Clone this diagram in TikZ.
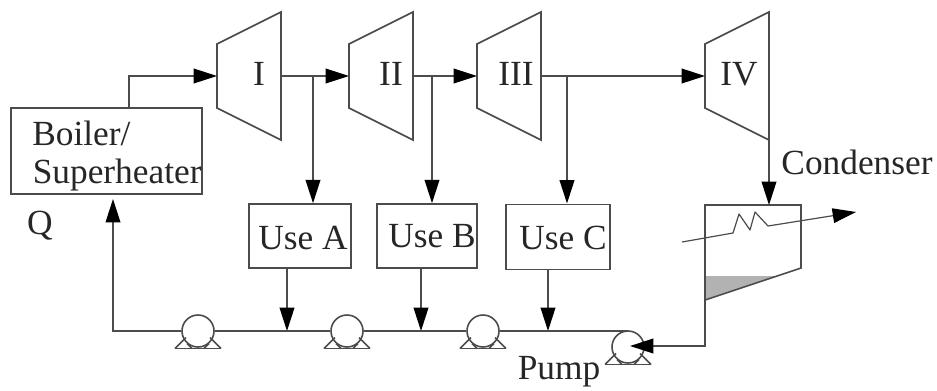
\documentclass[tikz,border=0pt]{standalone}
\usepackage{fontspec}
\setmainfont{Liberation Serif}
\usetikzlibrary{arrows.meta,calc}
\definecolor{ln}{gray}{0.3}
\tikzset{
  lbl/.style={inner sep=0pt,font=\fontsize{26.5pt}{30pt}\selectfont,text=black!85},
  box/.style={draw=ln,rectangle,inner sep=0pt,minimum width=#1*0.75pt,minimum height=48pt},
  pumpc/.style={draw=ln,circle,inner sep=0pt,minimum size=24pt},
  flow/.style={draw=ln,-{Triangle[length=17.5pt,width=11pt,fill=black,color=black]}},
  pipe/.style={draw=ln},
}
\newcommand{\turbine}[2]{%
  \draw[draw=ln,line join=miter] (#1,44) -- (#1+64,12) -- (#1+64,140) -- (#1,108) -- cycle;
  \coordinate (#2in) at (#1,76);
  \coordinate (#2out) at (#1+64,76);
  \coordinate (#2bot) at (#1+64,140);
}
\newcommand{\pumpbase}[1]{%
  \draw[draw=ln] (#1) ++(-23,17.5) -- ++(46,0);
  \draw[draw=ln] (#1) ++(-23,17.5) -- ++(11,-11);
  \draw[draw=ln] (#1) ++(23,17.5) -- ++(-11,-11);
  \draw[draw=ln] (#1) ++(-6,17.5) -- ++(-5,-5);
  \draw[draw=ln] (#1) ++(6,17.5) -- ++(5,-5);
}
\begin{document}
\begin{tikzpicture}[x=0.75pt,y=-0.75pt,line width=1.2pt]
\useasboundingbox (0,0) rectangle (937,390);
\turbine{217}{ta}
\turbine{349}{tb}
\turbine{477}{tc}
\turbine{705}{td}
\node[lbl] (lI) at (259,74) {I};
\node[lbl] (lII) at (391,74) {II};
\node[lbl] (lIII) at (516,74) {III};
\node[lbl] (lIV) at (739,74) {IV};
% boiler
\node[box=191,minimum height=64.5pt] (boiler) at (106.5,151) {};
\node[lbl,anchor=west] (b1) at (31.5,133) {Boiler/};
\node[lbl,anchor=west] (b2) at (32,175) {Superheater};
\node[lbl] (q) at (40,226) {Q};
% uses
\node[box=102] (ua) at (300,236) {};
\node[box=100] (ub) at (427,236) {};
\node[box=104,minimum height=49pt] (uc) at (558,237) {};
\node[lbl] (la) at (303,238) {Use A};
\node[lbl] (lb) at (432,236) {Use B};
\node[lbl] (lc) at (563,238) {Use C};
\node[lbl] (cond) at (857,162) {Condenser};
\node[lbl] (pl) at (559,372) {Pump};
% condenser
\fill[gray!60] (706,276) -- (776,276) -- (706,299) -- cycle;
\draw[draw=ln] (705,205) coordinate (ctl) -- (801,205) coordinate (ctr) -- (801,268) -- (705,300) -- cycle;
\coordinate (cin) at (769,205);
\coordinate (cbot) at (705,300);
% pumps
\node[pumpc] (p1) at (198,331) {};
\node[pumpc] (p2) at (347,331) {};
\node[pumpc] (p3) at (483,331) {};
\node[pumpc] (p4) at (628,347) {};
\pumpbase{p1}
\pumpbase{p2}
\pumpbase{p3}
\pumpbase{p4}
% flows
\coordinate (bt) at (129,108);
\coordinate (j1) at (313,76);
\coordinate (j2) at (432,76);
\coordinate (j3) at (567,76);
\draw[flow] (bt) -- (129,76) -- (tain);
\draw[flow] (taout) -- (tbin);
\draw[flow] (tbout) -- (tcin);
\draw[flow] (tcout) -- (tdin);
\draw[flow] (j1) -- (j1 |- ua.north);
\draw[flow] (j2) -- (j2 |- ub.north);
\draw[flow] (j3) -- (j3 |- uc.north);
\draw[flow] (tdbot) -- (cin);
% return
\coordinate (ja) at (287,331);
\coordinate (jb) at (421,331);
\coordinate (jc) at (548,331);
\draw[flow] (ja |- ua.south) -- (ja);
\draw[flow] (jb |- ub.south) -- (jb);
\draw[flow] (jc |- uc.south) -- (jc);
\draw[flow] (p1.west) -- (113,331) -- (113,199);
\draw[pipe] (p1.east) -- (p2.west);
\draw[pipe] (p2.east) -- (p3.west);
\draw[pipe] (p3.east) -- (p3.east -| p4.north);
\draw[flow] (cbot) -- (705,346) -- (630,346);
% coil
\coordinate (cs) at (682,242);
\coordinate (ce) at (856,212);
\draw[flow,line width=0.9pt,line join=round] (cs) -- (733,233) -- (739,214) -- (750,230) -- (755,212) -- (768,226) -- (ce);
\end{tikzpicture}
\end{document}
